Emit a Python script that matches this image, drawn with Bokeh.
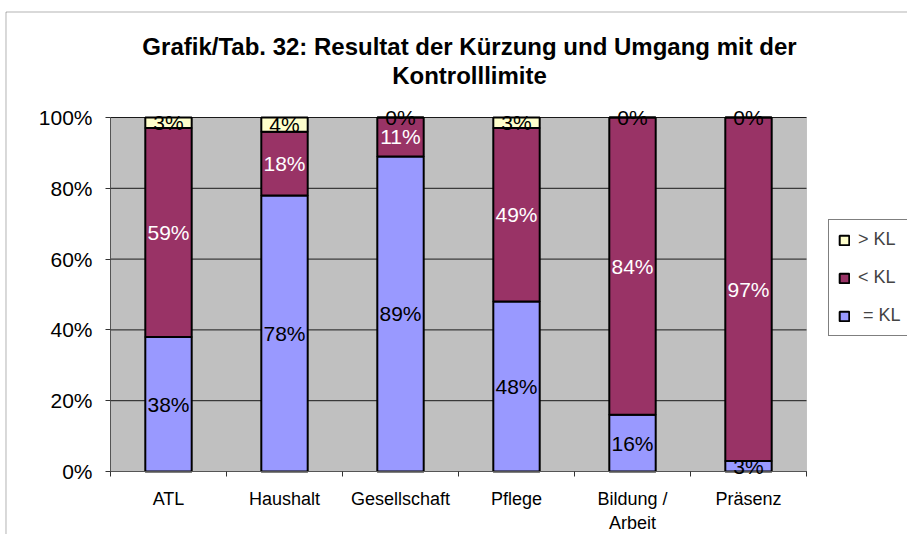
from bokeh.plotting import figure
from bokeh.models import (ColumnDataSource, FixedTicker, NumeralTickFormatter, Legend,
                          LegendItem, LabelSet, Label, BoxAnnotation, Range1d, LinearAxis)
from bokeh.core.properties import value
from bokeh.embed import file_html
from bokeh.resources import INLINE

# ---- data ----
categories = ["ATL", "Haushalt", "Gesellschaft", "Pflege", "Bildung /\nArbeit", "Präsenz"]
eq_kl = [38, 78, 89, 48, 16, 3]      # "= KL"
lt_kl = [59, 18, 11, 49, 84, 97]     # "< KL"
gt_kl = [3, 4, 0, 3, 0, 0]           # "> KL"
series_keys = ["eq", "lt", "gt"]
series_colors = ["#9999FF", "#993366", "#FFFFCC"]
label_colors = ["black", "white", "black"]
legend_labels = {"gt": "> KL", "lt": "< KL", "eq": " = KL"}
y_ticks = [0, 0.2, 0.4, 0.6, 0.8, 1.0]
title_lines = ["Grafik/Tab. 32: Resultat der Kürzung und Umgang mit der", "Kontrolllimite"]

FONT = "Liberation Sans"
W, H = 907, 534
# plot-area geometry in canvas pixels
PA_LEFT, PA_BOTTOM, PX_PER_CAT, PX_PER_UNIT = 110, 471, 116, 354

n = len(categories)
xs = [i + 0.5 for i in range(n)]
vals = {"eq": [v / 100 for v in eq_kl], "lt": [v / 100 for v in lt_kl], "gt": [v / 100 for v in gt_kl]}
src = ColumnDataSource(dict(x=xs, **vals))

x_range = Range1d(-PA_LEFT / PX_PER_CAT, (W - PA_LEFT) / PX_PER_CAT)
y_range = Range1d(-(H - PA_BOTTOM) / PX_PER_UNIT, PA_BOTTOM / PX_PER_UNIT)

p = figure(width=W, height=H, output_backend="svg", toolbar_location=None,
           x_range=x_range, y_range=y_range,
           x_axis_location=None, y_axis_location=None,
           min_border_left=0, min_border_top=0, min_border_right=0, min_border_bottom=0,
           background_fill_color="white", border_fill_color="white",
           outline_line_color=None)
p.xgrid.visible = False
p.ygrid.visible = False

# gray plot area
p.add_layout(BoxAnnotation(left=0, right=n, bottom=0, top=1, fill_color="#C0C0C0", fill_alpha=1,
                           line_color="#808080", line_width=1, level="underlay"))

# gridlines
p.segment(x0=[0] * len(y_ticks), x1=[n] * len(y_ticks), y0=y_ticks, y1=y_ticks,
          line_color="#1a1a1a", line_width=1)

renderers = p.vbar_stack(series_keys, x="x", width=0.4, source=src,
                         fill_color=series_colors, line_color="black", line_width=2)

# data labels
lx, ly, lt_txt, lc = [], [], [], []
for i in range(n):
    bottom = 0.0
    for k, col in zip(series_keys, label_colors):
        v = vals[k][i]
        lx.append(xs[i])
        ly.append(bottom + v / 2 if v > 0 else bottom)
        lt_txt.append(f"{round(v * 100)}%")
        lc.append(col)
        bottom += v
lsrc = ColumnDataSource(dict(x=lx, y=ly, t=lt_txt, c=lc))
p.add_layout(LabelSet(x="x", y="y", text="t", source=lsrc, text_color="c",
                      text_align="center", text_baseline="middle",
                      text_font=value(FONT), text_font_size=value("21px")))

# y axis
ya = LinearAxis(fixed_location=0, bounds=(0, 1), ticker=FixedTicker(ticks=y_ticks),
                formatter=NumeralTickFormatter(format="0%"))
ya.major_tick_out = 5
ya.major_tick_in = 0
ya.minor_tick_line_color = None
ya.axis_line_color = "#555555"
ya.major_tick_line_color = "#333333"
ya.major_label_text_font = FONT
ya.major_label_text_font_size = "21px"
ya.major_label_text_color = "black"
ya.major_label_standoff = 13
p.add_layout(ya, "left")

# x axis: labels at category centres, ticks at boundaries
xa = LinearAxis(fixed_location=0, bounds=(0, n),
                ticker=FixedTicker(ticks=xs, minor_ticks=list(range(n + 1))))
xa.major_label_overrides = {x: c for x, c in zip(xs, categories)}
xa.major_tick_line_color = None
xa.major_tick_out = 0
xa.major_tick_in = 0
xa.minor_tick_out = 5
xa.minor_tick_in = 0
xa.minor_tick_line_color = "#333333"
xa.axis_line_color = "#555555"
xa.major_label_text_font = FONT
xa.major_label_text_font_size = "18px"
xa.major_label_text_color = "black"
xa.major_label_standoff = 12
p.add_layout(xa, "below")

# title
for txt, yy in zip(title_lines, [1.2006, 1.1186]):
    p.add_layout(Label(x=3.095, y=yy, text=txt, text_align="center", text_baseline="middle",
                       text_font=FONT, text_font_style="bold", text_font_size="24px",
                       text_color="black"))

# outer chart border
p.add_layout(BoxAnnotation(left=-0.9009, right=100, top=1.298, bottom=-100,
                           fill_alpha=0, line_color="black", line_width=1))

# legend
rmap = dict(zip(series_keys, renderers))
items = [LegendItem(label=legend_labels[k], renderers=[rmap[k]]) for k in ["gt", "lt", "eq"]]
legend = Legend(items=items, location=(828, 198), margin=0, padding=9,
                spacing=17, label_height=21, label_width=80,
                glyph_width=12, glyph_height=12, label_standoff=8,
                label_text_font=FONT, label_text_font_size="18px",
                border_line_color="black", border_line_width=1,
                background_fill_color="white", background_fill_alpha=1)
p.add_layout(legend)

open("out.html", "w").write(file_html(p, INLINE))
